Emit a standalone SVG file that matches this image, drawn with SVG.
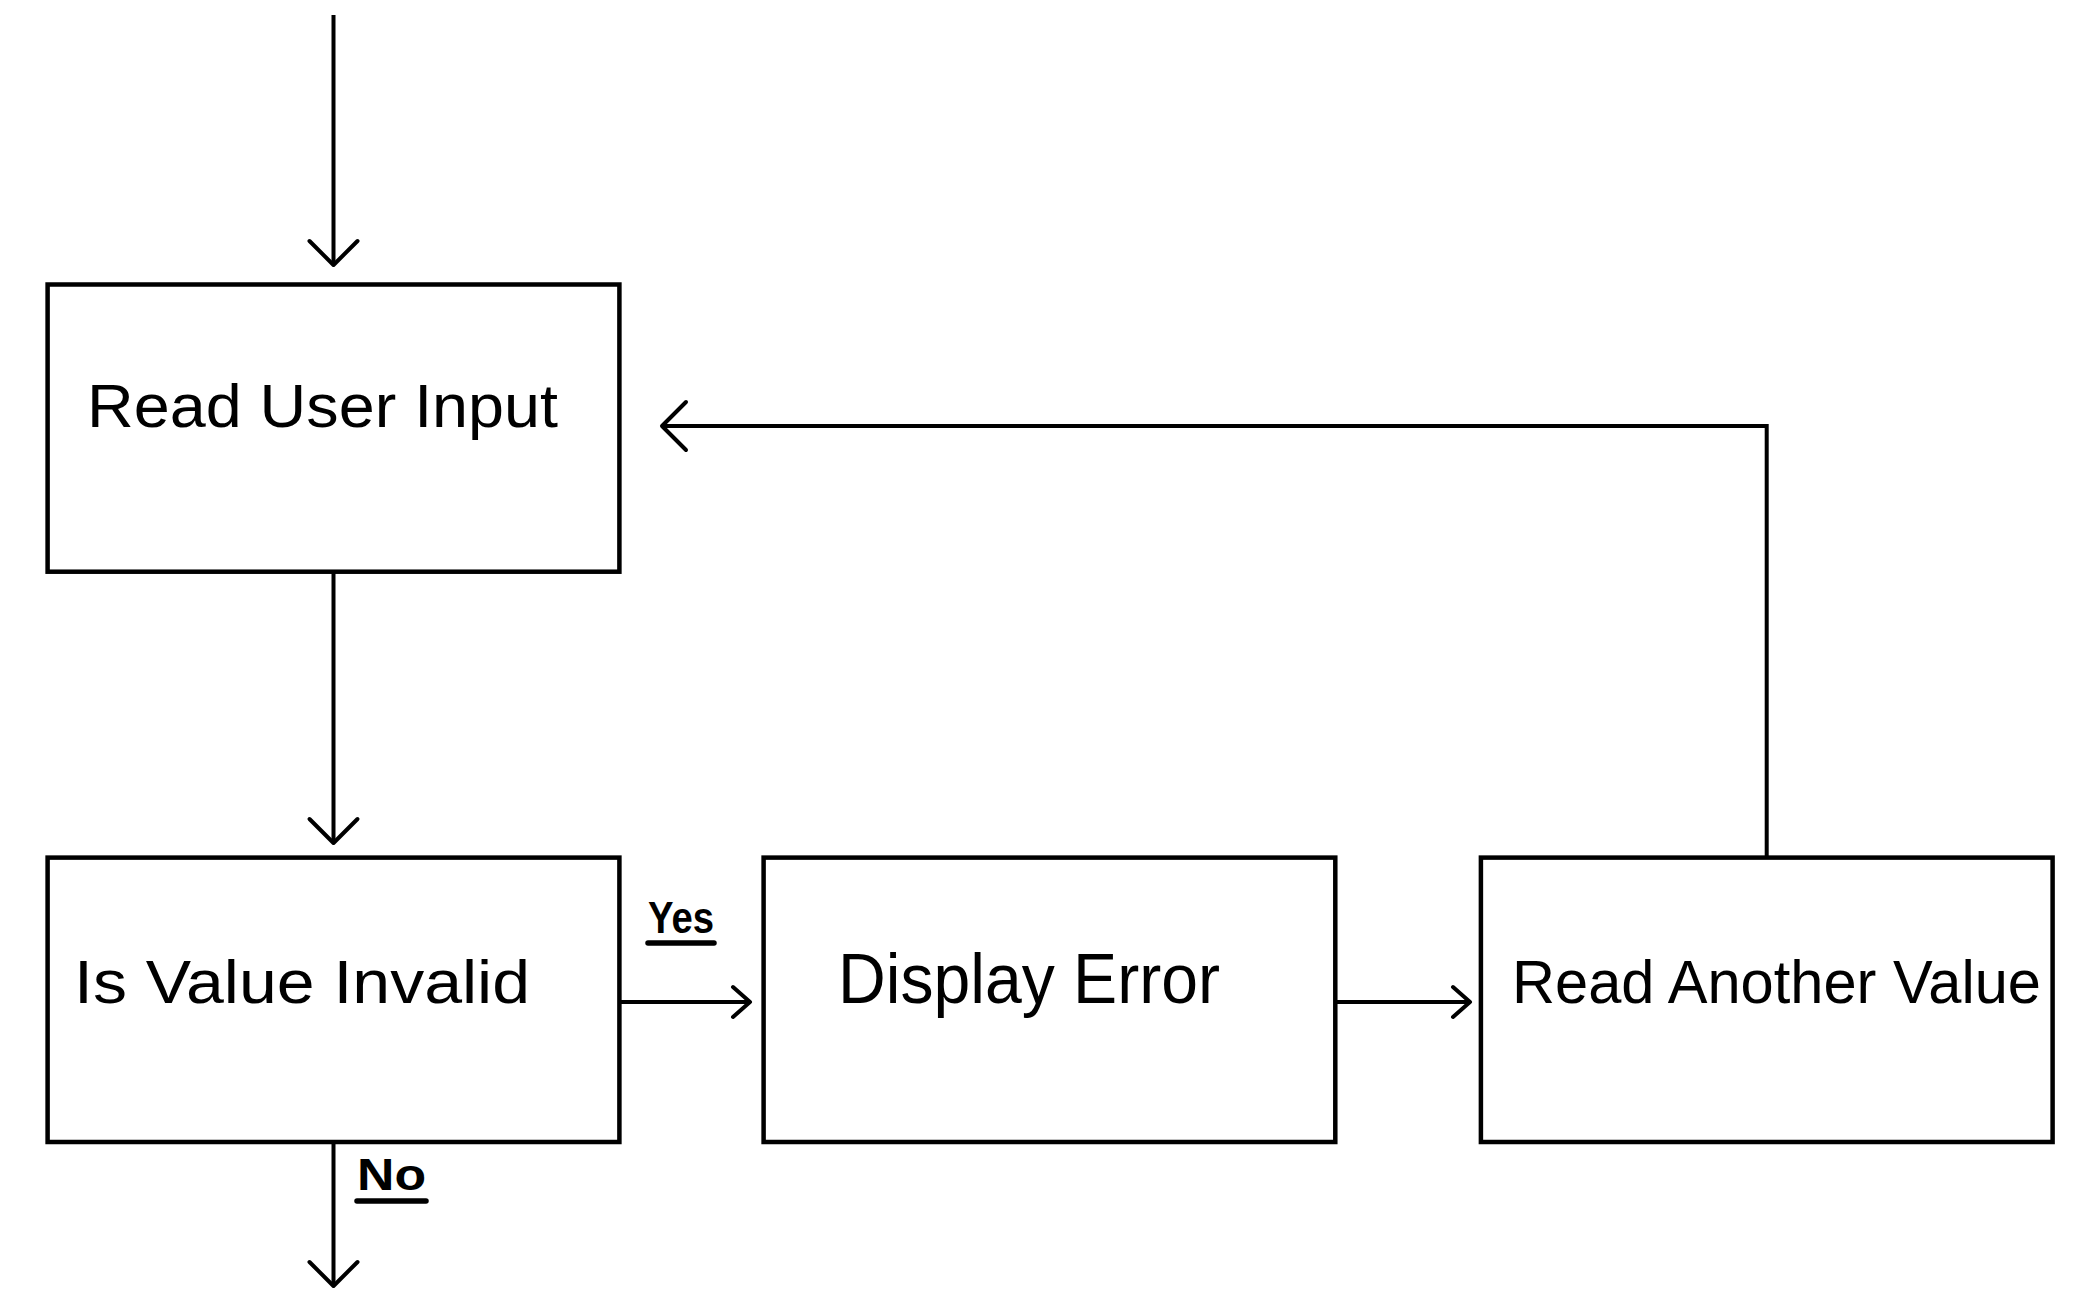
<svg xmlns="http://www.w3.org/2000/svg" width="2075" height="1304" viewBox="0 0 2075 1304">
<style>
.box{fill:#fff;stroke:#000;stroke-width:4.5}
.ln{fill:none;stroke:#000;stroke-width:4}
.t{font-family:"Liberation Sans","DejaVu Sans",sans-serif;fill:#000}
.lb{font-weight:bold}
.ul{stroke:#000;stroke-width:5.5;stroke-linecap:round}
</style>
<defs>
<marker id="big" viewBox="-30 -30 34 60" refX="0" refY="0" markerWidth="34" markerHeight="60" markerUnits="userSpaceOnUse" orient="auto">
<path d="M-24,-24 L0,0 L-24,24" fill="none" stroke="#000" stroke-width="4" stroke-linecap="round" stroke-linejoin="round"/>
</marker>
<marker id="small" viewBox="-22 -20 26 40" refX="0" refY="0" markerWidth="26" markerHeight="40" markerUnits="userSpaceOnUse" orient="auto">
<path d="M-17,-15 L0,0 L-17,15" fill="none" stroke="#000" stroke-width="4" stroke-linecap="round" stroke-linejoin="round"/>
</marker>
</defs>
<rect width="2075" height="1304" fill="#fff"/>
<g id="connectors">
<line class="ln" x1="333.5" y1="15" x2="333.5" y2="265" marker-end="url(#big)"/>
<line class="ln" x1="333.5" y1="572" x2="333.5" y2="843" marker-end="url(#big)"/>
<line class="ln" x1="619.4" y1="1002" x2="750" y2="1002" marker-end="url(#small)"/>
<line class="ln" x1="1335.3" y1="1002" x2="1470" y2="1002" marker-end="url(#small)"/>
<polyline class="ln" points="1766.7,857.6 1766.7,426 662,426" marker-end="url(#big)"/>
<line class="ln" x1="333.5" y1="1142" x2="333.5" y2="1286" marker-end="url(#big)"/>
<g id="label-yes">
<text class="t lb" x="648" y="933" font-size="44" textLength="66" lengthAdjust="spacingAndGlyphs">Yes</text>
<line class="ul" x1="648" y1="943" x2="714" y2="943"/>
</g>
<g id="label-no">
<text class="t lb" x="357" y="1190" font-size="44" textLength="69" lengthAdjust="spacingAndGlyphs">No</text>
<line class="ul" x1="357" y1="1201" x2="426" y2="1201"/>
</g>
</g>
<g id="node-read-user-input">
<rect class="box" x="47.6" y="284.5" width="571.8" height="287.2"/>
<text class="t" x="87" y="427" font-size="62" textLength="471" lengthAdjust="spacingAndGlyphs">Read User Input</text>
</g>
<g id="node-is-value-invalid">
<rect class="box" x="47.6" y="857.6" width="571.8" height="284.4"/>
<text class="t" x="74" y="1003" font-size="62" textLength="456" lengthAdjust="spacingAndGlyphs">Is Value Invalid</text>
</g>
<g id="node-display-error">
<rect class="box" x="763.6" y="857.6" width="571.7" height="284.4"/>
<text class="t" x="838" y="1003" font-size="70" textLength="382" lengthAdjust="spacingAndGlyphs">Display Error</text>
</g>
<g id="node-read-another-value">
<rect class="box" x="1480.9" y="857.6" width="571.7" height="284.4"/>
<text class="t" x="1512" y="1003" font-size="62" textLength="529" lengthAdjust="spacingAndGlyphs">Read Another Value</text>
</g>
</svg>
